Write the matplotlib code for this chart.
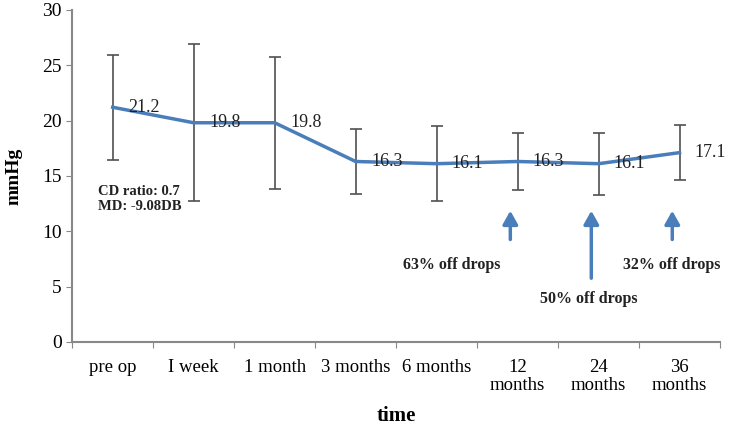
import numpy as np
import matplotlib
matplotlib.use("Agg")
import matplotlib.pyplot as plt

plt.rcParams['font.family'] = ['Liberation Serif', 'DejaVu Serif']

# datos
categorias = ["pre op", "I week", "1 month", "3 months", "6 months",
              "12\nmonths", "24\nmonths", "36\nmonths"]
presion = [21.2, 19.8, 19.8, 16.3, 16.1, 16.3, 16.1, 17.1]
desvio = [4.75, 7.1, 5.95, 2.9, 3.4, 2.6, 2.8, 2.5]
etiquetas = ["21.2", "19.8", "19.8", "16.3", "16.1", "16.3", "16.1", "17.1"]
notas_idx = [5, 6, 7]
notas_txt = ["63% off drops", "50% off drops", "32% off drops"]

azul = "#4a7ebb"

fig = plt.figure(figsize=(7.37, 4.30), dpi=100)
ax = fig.add_axes([0.098, 0.205, 0.879, 0.772])

x = np.arange(len(categorias)) + 0.5
ax.errorbar(x, presion, yerr=desvio, fmt='none', ecolor="#505050",
            elinewidth=1.2, capsize=4, capthick=1.2, zorder=2)
ax.plot(x, presion, color=azul, lw=2.5, zorder=3)

for xi, yi, t in zip(x, presion, etiquetas):
    ax.annotate(t, (xi, yi), xytext=(11, 0), textcoords='offset points',
                ha='left', va='center', fontsize=13, color="#222222")

# flechas de "off drops"
colas = [9.0, 5.5, 9.0]
pos_txt = [(-0.82, 6.9), (-0.12, 3.9), (-0.10, 6.9)]
for i, t, c, p in zip(notas_idx, notas_txt, colas, pos_txt):
    xa = x[i] - 0.09
    ax.annotate("", xy=(xa, 12.1), xytext=(xa, c),
                arrowprops=dict(arrowstyle='-|>,head_length=0.8,head_width=0.45',
                                color=azul, lw=2.5))
    ax.text(x[i] + p[0], p[1], t, ha='center', va='center',
            fontsize=11.5, fontweight='bold', color="#222222")

ax.text(0.32, 13.6, "CD ratio: 0.7", fontsize=10.5, fontweight='bold',
        color="#222222", va='center')
ax.text(0.32, 12.2, "MD: -9.08DB", fontsize=10.5, fontweight='bold',
        color="#222222", va='center')

ax.set_xlim(0, len(categorias))
ax.set_ylim(0, 30)
ax.set_yticks(np.arange(0, 31, 5))
ax.set_xticks(np.arange(0, len(categorias) + 1))
ax.set_xticklabels([])
ax.set_xticks(x, minor=True)
ax.set_xticklabels(categorias, minor=True)
ax.tick_params(axis='x', which='minor', length=0, pad=12, labelsize=13.5)
ax.tick_params(axis='x', which='major', length=4, color="#888888", direction='out')
ax.tick_params(axis='y', length=4, color="#888888", labelsize=14)
for lab in ax.get_xticklabels(minor=True):
    lab.set_verticalalignment('top')
    lab.set_linespacing(1.15)

for s in ['top', 'right']:
    ax.spines[s].set_visible(False)
for s in ['left', 'bottom']:
    ax.spines[s].set_color("#888888")
    ax.spines[s].set_linewidth(1.5)

ax.set_ylabel("mmHg", fontsize=14, fontweight='bold', labelpad=14)
ax.set_xlabel("time", fontsize=15, fontweight='bold', labelpad=8)

fig.savefig("out.png", dpi=100)
